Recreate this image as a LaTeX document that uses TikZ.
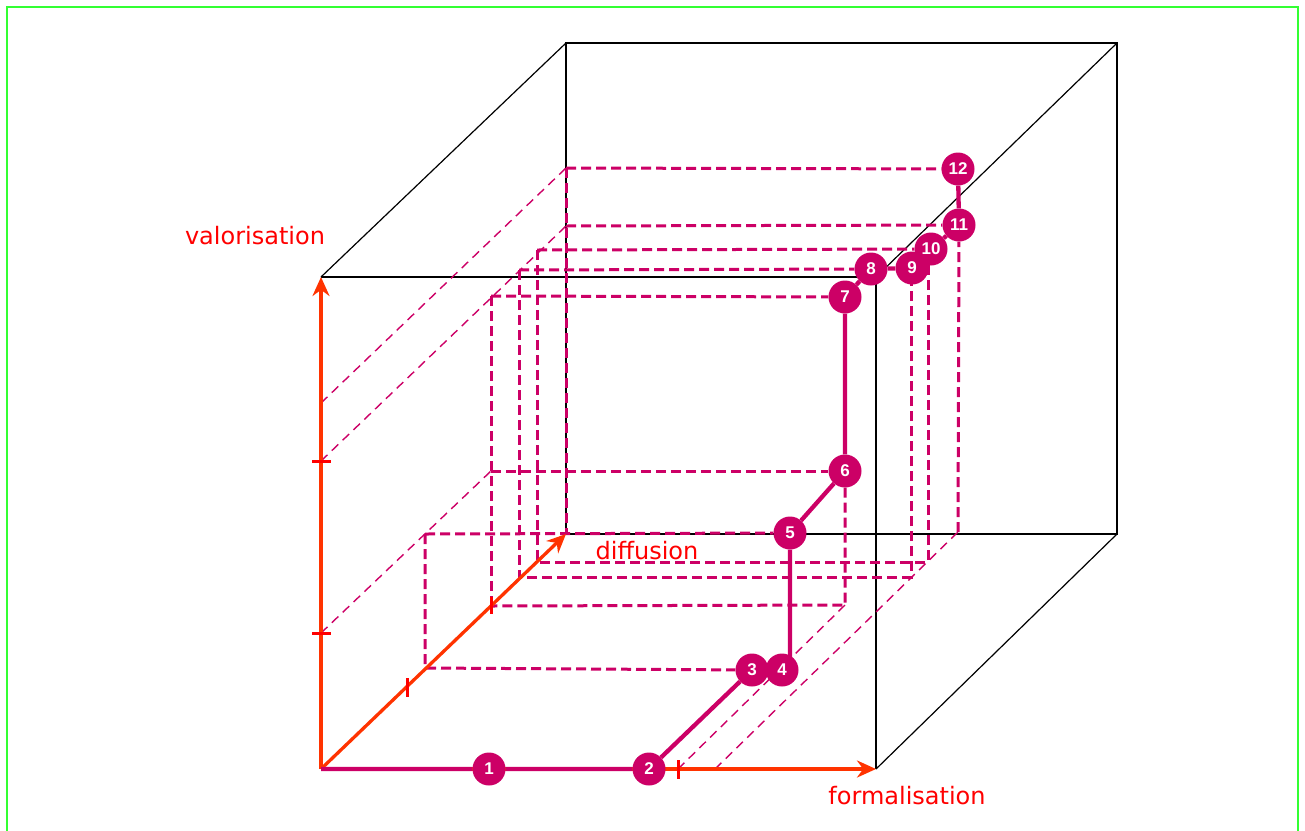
\documentclass[tikz,border=0pt]{standalone}
\usepackage{fontspec}
\newfontfamily\labelfont{DejaVu Sans}
\newfontfamily\numfont{Liberation Sans}
\usetikzlibrary{arrows.meta,backgrounds}
\definecolor{mag}{HTML}{CC0066}
\definecolor{axisred}{HTML}{FF3300}
\definecolor{tickred}{HTML}{FF0000}
\definecolor{framegreen}{HTML}{33FF33}
\begin{document}
\begin{tikzpicture}[x=1pt,y=-1pt,
  station/.style={circle,fill=mag,minimum size=33pt,inner sep=0pt,text=white,font=\numfont\bfseries\fontsize{17}{17}\selectfont},
  cubeline/.style={black,line width=1.2pt},
  thindash/.style={mag,line width=1.4pt,dash pattern=on 9pt off 6pt},
  thickdash/.style={mag,line width=3pt,dash pattern=on 10pt off 5pt},
  axisline/.style={axisred,line width=3.3pt,-{Stealth[length=19pt,width=17pt]}},
  axtick/.style={tickred,line width=3pt},
  route/.style={mag,line width=4.3pt},
  lbl/.style={text=tickred,font=\labelfont\fontsize{24}{24}\selectfont}]
\useasboundingbox (0,0) rectangle (1305,830);
\draw[framegreen,line width=2pt] (7,7) rectangle (1298,845);

% cube corners
\coordinate (O) at (321,769);
\coordinate (FTL) at (321,277);
\coordinate (FTR) at (876,277);
\coordinate (FBR) at (876,769);
\coordinate (BTL) at (566,43);
\coordinate (BTR) at (1117,43);
\coordinate (BBR) at (1117,534);
\coordinate (BBL) at (566,534);
\coordinate (VT) at (321,277);
% projection corners
\coordinate (z3) at (321,403);
\coordinate (z2) at (321,461);
\coordinate (z1) at (321,633);
\coordinate (a12) at (566,168);
\coordinate (a11) at (566,226);
\coordinate (a10) at (537,250);
\coordinate (a8) at (519,270);
\coordinate (a7) at (491,296);
\coordinate (a6) at (491,471);
\coordinate (b6) at (845,605);
\coordinate (c6) at (491,606);
\coordinate (a5) at (425,534);
\coordinate (a3) at (425,668);
\coordinate (b8) at (519,577);
\coordinate (c8) at (911,577);
\coordinate (b10) at (537,562);
\coordinate (c10) at (928,562);
\coordinate (b11) at (958,532);
\coordinate (x1) at (678,769);
\coordinate (x2) at (715,769);

% stations
\node[station] (n1) at (489,769) {1};
\node[station] (n2) at (649,769) {2};
\node[station] (n3) at (752,670) {3};
\node[station] (n4) at (782,670) {4};
\node[station] (n5) at (790,533) {5};
\node[station] (n6) at (845,471) {6};
\node[station] (n7) at (845,297) {7};
\node[station] (n8) at (871,269) {8};
\node[station] (n9) at (912,268) {9};
\node[station] (n10) at (931,249) {10};
\node[station] (n11) at (959,225) {11};
\node[station] (n12) at (958,169) {12};

% labels
\node[lbl] (lv) at (255,236) {valorisation};
\node[lbl] (ld) at (647,551) {diffusion};
\node[lbl] (lf) at (907,796) {formalisation};

\begin{scope}[on background layer]
  % cube
  \draw[cubeline] (FTL) -- (FTR) -- (FBR);
  \draw[cubeline] (FTL) -- (BTL);
  \draw[cubeline] (FTR) -- (BTR);
  \draw[cubeline] (FBR) -- (BBR);
  \draw[cubeline] (BTL) -- (BTR) -- (BBR) -- (BBL) -- cycle;
  % thin projection lines
  \draw[thindash] (z3) -- (a12);
  \draw[thindash] (z2) -- (a11);
  \draw[thindash] (z1) -- (a6);
  \draw[thindash] (x1) -- (b6);
  \draw[thindash] (x2) -- (b11);
  % thick projection lines
  \draw[thickdash] (a12) -- (n12);
  \draw[thickdash] (a11) -- (n11);
  \draw[thickdash] (a12) -- (BBL);
  \draw[thickdash] (a10) -- (n10);
  \draw[thickdash] (a8) -- (n8);
  \draw[thickdash] (a7) -- (n7);
  \draw[thickdash] (a7) -- (c6);
  \draw[thickdash] (a8) -- (b8) -- (c8) -- (c8 |- n9);
  \draw[thickdash] (a10) -- (b10) -- (c10) -- (c10 |- n10);
  \draw[thickdash] (b11) -- (n11);
  \draw[thickdash] (a6) -- (n6);
  \draw[thickdash] (n6) -- (b6) -- (c6);
  \draw[thickdash] (a5) -- (n5);
  \draw[thickdash] (a5) -- (a3) -- (n3);
  % axes
  \draw[axisline] (O) -- (VT);
  \draw[axisline] (O) -- (BBL);
  \draw[axisline] (O) -- (FBR);
  % ticks
  \draw[axtick] (312,461) -- (331,461);
  \draw[axtick] (312,633) -- (331,633);
  \draw[axtick] (678,760) -- (678,779);
  \draw[axtick] (407,678) -- (407,697);
  \draw[axtick] (491,597) -- (491,614);
  % route
  \draw[route] (O) -- (n1) -- (n2) -- (n3) -- (n4);
  \draw[route] (n4 -| n5) -- (n5) -- (n6) -- (n7) -- (n8) -- (n9) -- (n10) -- (n11) -- (n12);
\end{scope}
\end{tikzpicture}
\end{document}
